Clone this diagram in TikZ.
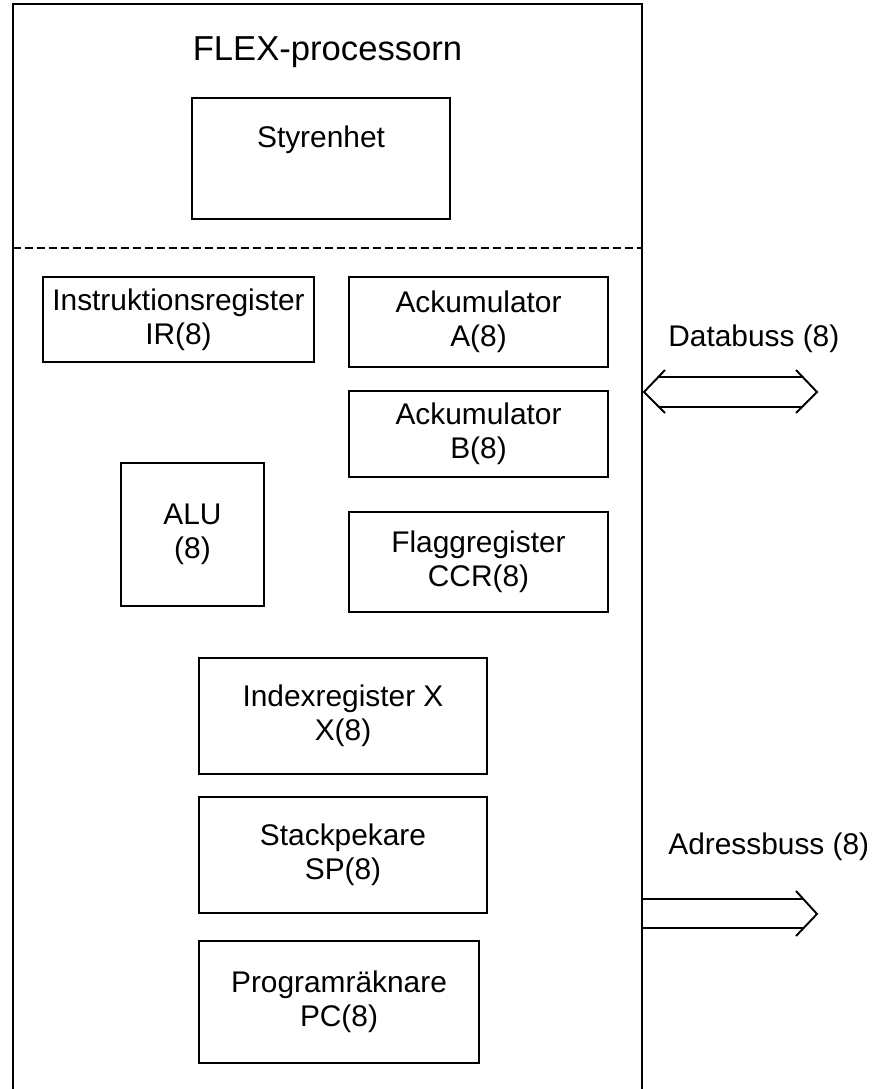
\documentclass[tikz,border=0pt]{standalone}
\usepackage{fontspec}
\setmainfont{Liberation Sans}
\usetikzlibrary{positioning}

\tikzset{
    reg/.style={draw, line width=1.1pt, align=center, inner sep=0pt,
        font=\fontsize{17}{19.4}\selectfont},
    lbl/.style={inner sep=0pt, font=\fontsize{17}{19.4}\selectfont},
    bus/.style={line width=1.1pt, line join=miter}
}

\begin{document}
\begin{tikzpicture}[x=0.02cm, y=-0.02cm]
        % Page size
        \useasboundingbox (0,0) rectangle (879,1089);

        % Processor frame, open at the bottom
        \draw[line width=1.2pt, line join=miter] (13,1095) -- (13,4) -- (642,4) -- (642,1095);
        \node[lbl, font=\fontsize{19.7}{22}\selectfont] (title) at (327.5,52) {FLEX-processorn};

        % Control unit
        \node[reg, minimum width=5.16cm, minimum height=2.42cm] (styr) at (321,158.5) {};
        \node[lbl] (styrtxt) at (321,140) {Styrenhet};

        % Divider
        \draw[line width=1.1pt, dash pattern=on 0.16cm off 0.08cm] (13,248) -- (642,248);

        % Registers
        \node[reg, minimum width=5.42cm, minimum height=1.70cm] (ir) at (178.5,319.5) {Instruktionsregister\\IR(8)};
        \node[reg, minimum width=5.18cm, minimum height=1.80cm] (acca) at (478.5,322) {Ackumulator\\A(8)};
        \node[reg, minimum width=5.18cm, minimum height=1.72cm] (accb) at (478.5,434) {Ackumulator\\B(8)};
        \node[reg, minimum width=2.86cm, minimum height=2.86cm] (alu) at (192.5,534.5) {ALU\\(8)};
        \node[reg, minimum width=5.18cm, minimum height=2.00cm] (ccr) at (478.5,562) {Flaggregister\\CCR(8)};
        \node[reg, minimum width=5.76cm, minimum height=2.32cm] (idx) at (343,716) {Indexregister X\\X(8)};
        \node[reg, minimum width=5.76cm, minimum height=2.32cm] (sp) at (343,855) {Stackpekare\\SP(8)};
        \node[reg, minimum width=5.60cm, minimum height=2.44cm] (pc) at (339,1002) {Programräknare\\PC(8)};

        % Data bus, both ways
        \node[lbl, anchor=west] (dblbl) at (668,339) {Databuss (8)};
        \draw[bus] (665,370) -- (644,392) -- (665,413);
        \draw[bus] (796,370) -- (817,392) -- (796,413);
        \draw[bus] (658,377) -- (803,377);
        \draw[bus] (658,407) -- (803,407);

        % Address bus, outwards
        \node[lbl, anchor=west] (ablbl) at (668,847) {Adressbuss (8)};
        \draw[bus] (796,891) -- (817,914) -- (796,936);
        \draw[bus] (642,899) -- (803,899);
        \draw[bus] (642,928) -- (803,928);
    \end{tikzpicture}
\end{document}
